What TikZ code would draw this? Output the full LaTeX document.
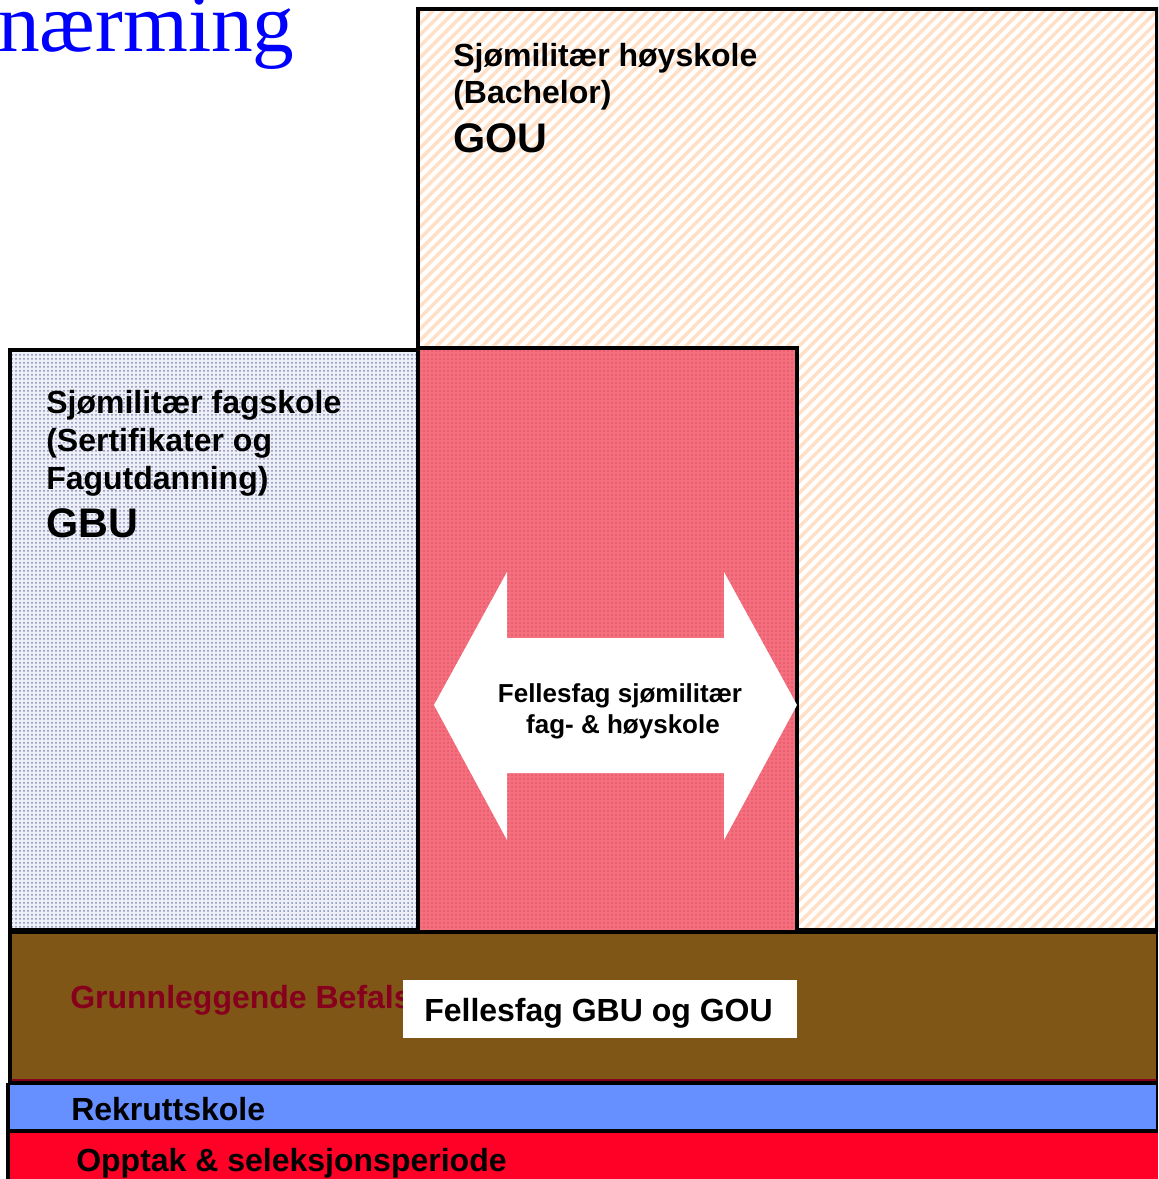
\documentclass[tikz,border=0pt]{standalone}
\usepackage{fontspec}
\setmainfont{Liberation Sans}
\newfontfamily\titlefont{Liberation Serif}
\usetikzlibrary{patterns.meta}
\definecolor{peach}{HTML}{FFDFC6}
\definecolor{dotblue}{HTML}{8088BC}
\definecolor{gbubg}{HTML}{EEF0F6}
\definecolor{redbox}{HTML}{F4707E}
\definecolor{reddot}{HTML}{E85A6C}
\definecolor{brownband}{HTML}{7F5615}
\definecolor{blueband}{HTML}{6690FF}
\definecolor{redband}{HTML}{FF0026}
\definecolor{darkredtxt}{HTML}{86001E}
\definecolor{titleblue}{HTML}{0000FF}
\begin{document}
\begin{tikzpicture}[x=0.75pt,y=-0.75pt,
  frame/.style={draw=black,line width=2.4pt},
  lbl/.style={anchor=base west,inner sep=0pt,font=\bfseries\fontsize{24}{28}\selectfont},
  big/.style={anchor=base west,inner sep=0pt,font=\bfseries\fontsize{31}{36}\selectfont},
  arr/.style={anchor=base,inner sep=0pt,font=\bfseries\fontsize{19.5}{23}\selectfont}]
\useasboundingbox (0,0) rectangle (1158,1179);
\clip (0,0) rectangle (1158,1179);
% GOU box
\fill[white] (418,9) rectangle (1157,930);
\fill[pattern={Lines[angle=45,distance=6pt,line width=2.6pt]},pattern color=peach] (418,9) rectangle (1157,930);
\draw[frame] (418,9) rectangle (1157,930);
% GBU box
\fill[gbubg] (10,350) rectangle (418,930);
\fill[pattern={Dots[distance=3pt,radius=0.75pt]},pattern color=dotblue] (10,350) rectangle (418,930);
\draw[frame] (10,350) rectangle (418,930);
% red middle box
\fill[redbox] (418,348) rectangle (797,932);
\fill[pattern={Dots[distance=3pt,radius=0.8pt]},pattern color=reddot] (418,348) rectangle (797,932);
\draw[frame] (418,348) rectangle (797,932);
% double arrow
\fill[white] (434,705) -- (507,572) -- (507,638) -- (724,638) -- (724,572) -- (797,705)
  -- (724,840) -- (724,773) -- (507,773) -- (507,840) -- cycle;
% bands
\fill[brownband] (10,932) rectangle (1158,1082);
\draw[frame] (10,932) -- (1158,932);
\draw[darkredtxt,line width=1.5pt] (10,1080) -- (1158,1080);
\fill[blueband] (8,1083) rectangle (1158,1130);
\fill[redband] (8,1131) rectangle (1158,1179);
\draw[frame] (8,1083) -- (1158,1083);
\draw[frame] (8,1131) -- (1158,1131);
\draw[frame] (10,932) -- (10,1083);
\draw[frame] (8,1083) -- (8,1179);
\draw[black,line width=1.2pt] (1157,932) -- (1157,1131);
% title
\node[anchor=base west,inner sep=0pt,text=titleblue,font=\titlefont\fontsize{62.5}{70}\selectfont] (title) at (-2,51) {nærming};
% GOU text
\node[lbl] (gou1) at (453,66) {Sjømilitær høyskole};
\node[lbl] (gou2) at (453,103) {(Bachelor)};
\node[big] (gou3) at (453,152) {GOU};
% GBU text
\node[lbl] (gbu1) at (46,413) {Sjømilitær fagskole};
\node[lbl] (gbu2) at (46,451) {(Sertifikater og};
\node[lbl] (gbu3) at (46,489) {Fagutdanning)};
\node[big] (gbu4) at (46,537) {GBU};
% arrow text
\node[arr] (fs1) at (620,702) {Fellesfag sjømilitær};
\node[arr] (fs2) at (623,733) {fag- \& høyskole};
% brown band text
\node[lbl,text=darkredtxt] (gbs) at (70,1008) {Grunnleggende Befals};
\node[draw=none,fill=white,minimum width=394*0.75pt,minimum height=58*0.75pt,inner sep=0pt,anchor=north west] (wbox) at (403,980) {};
\node[lbl] (ff) at (424,1021) {Fellesfag GBU og GOU};
\node[lbl] (rek) at (71,1120) {Rekruttskole};
\node[lbl] (opp) at (76,1171) {Opptak \& seleksjonsperiode};
\end{tikzpicture}
\end{document}
